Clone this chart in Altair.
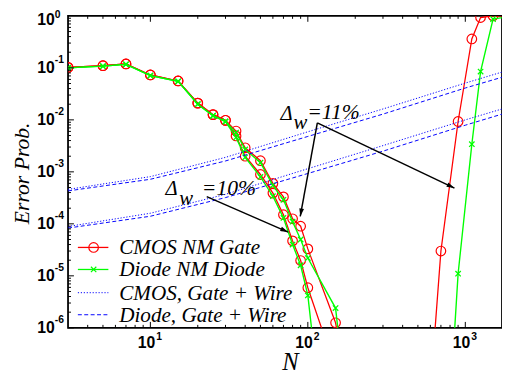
import altair as alt
import pandas as pd

# ---------------- data ----------------
N_c11 = [3, 5, 7, 10, 15, 20, 25, 30, 35, 40, 50, 60, 70, 80, 90, 100, 150, 200, 600, 700, 900, 1100, 1250, 1500, 2000]
P_c11 = [0.102, 0.11, 0.119, 0.073, 0.056, 0.021, 0.0126, 0.0098, 0.0061, 0.0029, 0.00164, 6.0e-4, 3.3e-4, 1.25e-4,
         9.0e-5, 3.3e-5, 1.25e-6, 1e-8, 6e-8, 3.0e-5, 9.3e-3, 0.36, 0.93, 1.0, 1.0]
N_c10 = [3, 5, 7, 10, 15, 20, 25, 30, 35, 40, 50, 60, 70, 80, 90, 100, 150]
P_c10 = [0.102, 0.11, 0.119, 0.073, 0.056, 0.021, 0.0126, 0.0098, 0.0049, 0.002, 8.9e-4, 3.9e-4, 1.5e-4, 4.7e-5,
         1.97e-5, 5.9e-6, 1.6e-7]
N_d11 = [3, 5, 7, 10, 15, 20, 25, 30, 35, 40, 50, 60, 70, 80, 90, 100, 150, 200, 700, 900, 1100, 1250, 1500, 2000]
P_d11 = [0.1, 0.108, 0.117, 0.071, 0.055, 0.02, 0.012, 0.0093, 0.0057, 0.0027, 0.0015, 5.5e-4, 2.9e-4, 1.1e-4,
         5e-5, 2.2e-5, 2.4e-6, 1e-9, 5e-11, 1.1e-5, 3.4e-3, 0.085, 0.87, 1.0]
N_d10 = [3, 5, 7, 10, 15, 20, 25, 30, 35, 40, 50, 60, 70, 80, 90, 100, 150]
P_d10 = [0.1, 0.108, 0.117, 0.071, 0.055, 0.02, 0.012, 0.0093, 0.0046, 0.0019, 8e-4, 3.4e-4, 1.3e-4, 4e-5,
         1.6e-5, 4.2e-6, 8e-11]

N_wire = [3, 10, 30, 100, 300, 1000, 1710]
P_cw11 = [4.6e-4, 8.1e-4, 1.9e-3, 5.9e-3, 1.62e-2, 5.1e-2, 8.3e-2]
P_dw11 = [4.3e-4, 7.2e-4, 1.62e-3, 4.8e-3, 1.29e-2, 4.1e-2, 6.6e-2]
P_cw10 = [8.9e-5, 1.6e-4, 3.7e-4, 1.15e-3, 3.2e-3, 1.0e-2, 1.62e-2]
P_dw10 = [8.3e-5, 1.4e-4, 3.2e-4, 9.3e-4, 2.5e-3, 7.9e-3, 1.29e-2]

x_major = [10, 100, 1000]
x_major_exp = ["1", "2", "3"]
x_minor = [4, 5, 6, 7, 8, 9, 20, 30, 40, 50, 60, 70, 80, 90, 200, 300, 400, 500, 600, 700, 800, 900]
y_major = [1e-6, 1e-5, 1e-4, 1e-3, 1e-2, 1e-1]
y_major_exp = ["-6", "-5", "-4", "-3", "-2", "-1"]
y_top = [1]
y_top_exp = ["0"]
y_minor = [m * 10.0 ** e for e in range(-6, 0) for m in range(2, 10)]

legend_labels = ["CMOS NM Gate", "Diode NM Diode", "CMOS, Gate + Wire", "Diode, Gate + Wire"]

# annotation arrows (data coordinates)
arrow_N0 = [22.8, 114.9, 114.9]
arrow_P0 = [3.33e-4, 8.76e-3, 8.76e-3]
arrow_N1 = [75.0, 89.5, 853]
arrow_P1 = [6.94e-5, 1.39e-4, 4.87e-4]
arrow_ang = [113.5, 190.3, 115.4]

# ---------------- chart ----------------
W, H = 441, 317
xs = alt.Scale(type="log", domain=[3, 1710], nice=False)
ys = alt.Scale(type="log", domain=[1e-6, 1], nice=False)
X = alt.X("N:Q", scale=xs, axis=None)
Y = alt.Y("P:Q", scale=ys, axis=None)

SERIF = "Liberation Serif"
SANS = "Liberation Sans"
RED, GREEN, BLUE = "#ff0000", "#00ff00", "#0000ff"


def frame(ns, ps, s):
    return pd.DataFrame({"N": ns, "P": ps, "s": s})


red_df = pd.concat([frame(N_c10, P_c10, "c10"), frame(N_c11, P_c11, "c11")])
green_df = pd.concat([frame(N_d10, P_d10, "d10"), frame(N_d11, P_d11, "d11")])
dot_df = pd.concat([frame(N_wire, P_cw11, "a"), frame(N_wire, P_cw10, "b")])
dash_df = pd.concat([frame(N_wire, P_dw11, "a"), frame(N_wire, P_dw10, "b")])

XMARK = "M-1,-1L1,1M-1,1L1,-1"

layers = []
layers.append(alt.Chart(red_df).mark_line(color=RED, strokeWidth=1.3, clip=True).encode(x=X, y=Y, detail="s:N"))
layers.append(alt.Chart(red_df).mark_point(shape="circle", filled=False, color=RED, size=95, strokeWidth=1.2,
                                           clip=True, opacity=1).encode(x=X, y=Y))
layers.append(alt.Chart(green_df).mark_line(color=GREEN, strokeWidth=1.4, clip=True).encode(x=X, y=Y, detail="s:N"))
layers.append(alt.Chart(green_df).mark_point(shape=XMARK, filled=False, color=GREEN, size=30, strokeWidth=1.3,
                                             clip=True, opacity=1).encode(x=X, y=Y))
layers.append(alt.Chart(dot_df).mark_line(color=BLUE, strokeWidth=1, strokeDash=[1.2, 1.8], clip=True)
              .encode(x=X, y=Y, detail="s:N"))
layers.append(alt.Chart(dash_df).mark_line(color=BLUE, strokeWidth=1, strokeDash=[4, 2.5], clip=True)
              .encode(x=X, y=Y, detail="s:N"))

# arrows
arr_df = pd.DataFrame({"N": arrow_N0, "P": arrow_P0, "N1": arrow_N1, "P1": arrow_P1, "ang": arrow_ang})
layers.append(alt.Chart(arr_df).mark_rule(color="black", strokeWidth=1.5).encode(
    x=X, y=Y, x2="N1:Q", y2="P1:Q"))
layers.append(alt.Chart(arr_df).mark_point(shape="M0,0L-0.6,2L0.6,2Z", filled=True, color="black", size=64,
                                           opacity=1).encode(
    x=alt.X("N1:Q", scale=xs, axis=None), y=alt.Y("P1:Q", scale=ys, axis=None),
    angle=alt.Angle("ang:Q", scale=None)))

# ticks
xmaj = pd.DataFrame({"N": x_major, "e": x_major_exp})
xmin = pd.DataFrame({"N": x_minor})
ymaj = pd.DataFrame({"P": y_major, "e": y_major_exp})
ytop = pd.DataFrame({"P": y_top, "e": y_top_exp})
ymin = pd.DataFrame({"P": y_minor})
for df, L in ((xmaj, 6), (xmin, 3)):
    layers.append(alt.Chart(df).mark_rule(color="black", strokeWidth=1).encode(x=X, y=alt.value(H), y2=alt.value(H - L)))
    layers.append(alt.Chart(df).mark_rule(color="black", strokeWidth=1).encode(x=X, y=alt.value(0), y2=alt.value(L)))
for df, L in ((ymaj, 6), (ymin, 3)):
    layers.append(alt.Chart(df).mark_rule(color="black", strokeWidth=1).encode(y=Y, x=alt.value(0), x2=alt.value(L)))

# tick labels
layers.append(alt.Chart(xmaj).mark_text(text="10", font=SANS, fontWeight="bold", fontSize=16, align="right",
                                        baseline="alphabetic", color="black", dx=5).encode(x=X, y=alt.value(H + 21)))
layers.append(alt.Chart(xmaj).mark_text(font=SANS, fontWeight="bold", fontSize=10.5, align="left",
                                        baseline="alphabetic", color="black", dx=6).encode(x=X, y=alt.value(H + 12), text="e:N"))
for df, d10, dexp in ((ymaj, 0, -8), (ytop, 4, -1)):
    layers.append(alt.Chart(df).mark_text(text="10", font=SANS, fontWeight="bold", fontSize=16, align="right",
                                          baseline="middle", color="black", dy=d10).encode(y=Y, x=alt.value(-13.5)))
    layers.append(alt.Chart(df).mark_text(font=SANS, fontWeight="bold", fontSize=10.5, align="left",
                                          baseline="middle", color="black", dy=dexp).encode(y=Y, x=alt.value(-13.5), text="e:N"))

one = pd.DataFrame({"a": [0]})


def txt(s, x, y, size=20, align="left", baseline="alphabetic", angle=0, font=SERIF, style="italic"):
    return alt.Chart(one).mark_text(text=s, font=font, fontStyle=style, fontSize=size, align=align,
                                    baseline=baseline, angle=angle, color="black").encode(
        x=alt.value(x), y=alt.value(y))


# axis titles
layers.append(txt("N", 226, 360, size=25, align="center"))
layers.append(txt("Error Prob.", -47, 160, size=22, align="center", baseline="middle", angle=270))

# annotations
layers.append(txt("\u0394", 216, 106, size=21))
layers.append(txt("w", 229, 115, size=21))
layers.append(txt("=11%", 243, 105, size=22))
layers.append(txt("\u0394", 99, 182, size=21))
layers.append(txt("w", 113, 192, size=21))
layers.append(txt("=10%", 136, 182, size=22))

# legend
row_y = [235.3, 257.7, 281.3, 303.7]
styles = [(RED, None, "circle"), (GREEN, None, XMARK), (BLUE, [1.2, 1.8], None), (BLUE, [4, 2.5], None)]
for lab, yy, (col, dash, shp) in zip(legend_labels, row_y, styles):
    kw = dict(color=col, strokeWidth=1.3 if dash is None else 1)
    if dash is not None:
        kw["strokeDash"] = dash
    layers.append(alt.Chart(one).mark_rule(**kw).encode(x=alt.value(10), x2=alt.value(41), y=alt.value(yy)))
    if shp is not None:
        layers.append(alt.Chart(one).mark_point(shape=shp, filled=False, color=col,
                                                size=95 if shp == "circle" else 30, strokeWidth=1.2, opacity=1)
                      .encode(x=alt.value(26), y=alt.value(yy)))
    layers.append(txt(lab, 52, yy + 7, size=21.5))

chart = alt.layer(*layers).properties(
    width=W, height=H,
    autosize=alt.AutoSizeParams(type="none"),
    padding={"left": 61, "top": 5, "right": 0, "bottom": 50},
).configure_view(stroke="black", strokeWidth=1.8)

chart.save("out.html", embed_options={"renderer": "svg", "actions": False})
